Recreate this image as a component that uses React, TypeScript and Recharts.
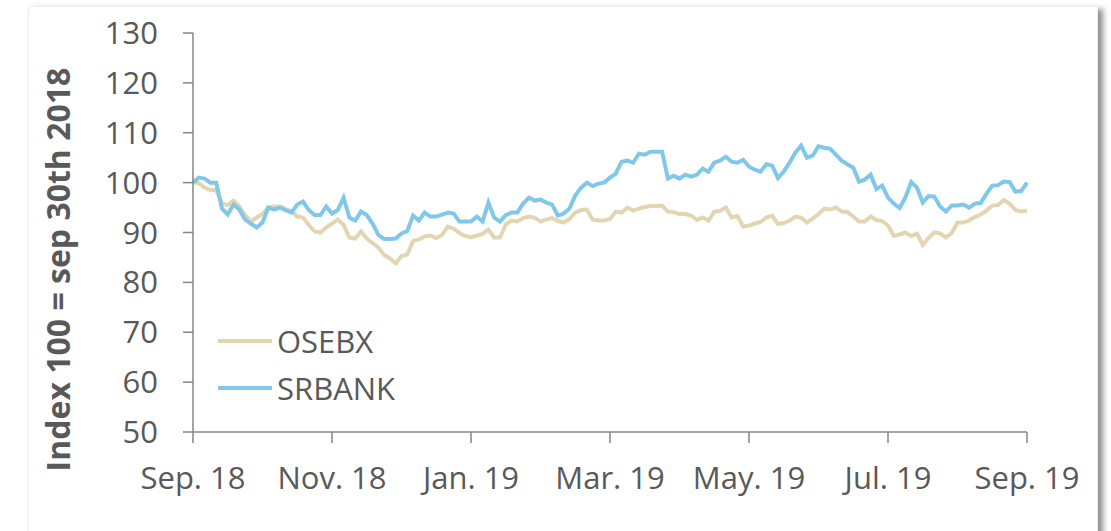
import React from 'react';
import { LineChart, Line, XAxis, YAxis, Legend } from 'recharts';

// tick labels on the x axis, one every 24 points
const monthLabels = ['Sep. 18', 'Nov. 18', 'Jan. 19', 'Mar. 19', 'May. 19', 'Jul. 19', 'Sep. 19'];
const xTicks = [0, 24, 48, 72, 96, 120, 144];
const yTicks = [50, 60, 70, 80, 90, 100, 110, 120, 130];

// index 100 = sep 30th 2018
const osebx = [
  100, 99.9, 99, 98.5, 98.5, 95.8, 95.5, 96.4, 95.2, 93.5,
  92.2, 93, 93.7, 95, 95.2, 95.2, 94.7, 94.3, 93.2, 93,
  91.5, 90.2, 90, 91, 91.8, 92.6, 91.5, 89, 88.8, 90.2,
  88.8, 87.9, 87, 85.5, 84.8, 83.8, 85.3, 85.6, 88.3, 88.6,
  89.2, 89.4, 88.9, 89.5, 91.2, 90.8, 89.9, 89.3, 89, 89.4,
  89.7, 90.6, 89, 89, 91.6, 92.4, 92.2, 92.9, 93.2, 93,
  92.2, 92.6, 92.9, 92.3, 92, 92.7, 94, 94.5, 94.6, 92.6,
  92.4, 92.4, 92.7, 94.2, 94, 95, 94.4, 94.8, 95.1, 95.3,
  95.3, 95.4, 94.2, 94.1, 93.7, 93.7, 93.4, 92.5, 93, 92.4,
  94.2, 94.3, 95, 93, 93.3, 91.2, 91.4, 91.8, 92.1, 93,
  93.4, 91.7, 91.9, 92.4, 93.2, 93, 92, 92.8, 93.7, 94.8,
  94.6, 95, 94.2, 94.1, 93.2, 92.2, 92.2, 93.2, 92.5, 92.3,
  91.4, 89.3, 89.6, 90, 89.3, 89.8, 87.5, 88.9, 90, 89.8,
  89, 89.9, 92, 92, 92.4, 93.1, 93.6, 94.4, 95.4, 95.5,
  96.5, 95.8, 94.5, 94.2, 94.4,
];

const srbank = [
  100, 101, 100.8, 100, 100, 94.8, 93.6, 95.6, 94.6, 92.6,
  91.8, 91, 92, 95, 94.6, 95, 94.5, 94, 95.6, 96.2,
  94.5, 93.5, 93.5, 95.2, 93.8, 94.5, 97, 93, 92.4, 94.2,
  93.5, 91.8, 89.5, 88.7, 88.7, 88.8, 89.8, 90.3, 93.4, 92.4,
  94, 93.2, 93.2, 93.6, 94, 93.8, 92.2, 92.2, 92.2, 93.2,
  92.2, 96, 93, 92.2, 93.5, 94, 94, 95.8, 97, 96.4,
  96.6, 96, 95.6, 93.4, 93.8, 94.8, 97.4, 99, 100, 99.3,
  99.8, 100, 101, 101.8, 104.2, 104.4, 104, 105.8, 105.6, 106.2,
  106.2, 106.2, 100.8, 101.4, 100.8, 101.6, 101.2, 101.6, 102.8, 102.2,
  104, 104.4, 105.2, 104.2, 104, 104.6, 103.2, 102.6, 102.2, 103.7,
  103.4, 100.9, 102.2, 104, 106, 107.4, 105, 105.4, 107.3, 107,
  106.8, 105.6, 104.4, 103.7, 103, 100.2, 100.6, 101.6, 98.7, 99.4,
  97, 95.8, 94.9, 97, 100.1, 99, 96, 97.3, 97.2, 95.2,
  94.2, 95.4, 95.4, 95.6, 95, 95.8, 95.9, 97.8, 99.4, 99.5,
  100.2, 100.1, 98.2, 98.3, 100,
];

const data = osebx.map((v, i) => ({ i, OSEBX: v, SRBANK: srbank[i] }));

const FONT = '"Open Sans", sans-serif';
const AXIS = '#868686';
const TEXT = '#595959';
const BEIGE = '#E2D6B2';
const BLUE = '#80C7EA';

const tickLabel = (v: number) => monthLabels[xTicks.indexOf(v)] ?? '';

const renderLegend = (props: any) => {
  const { payload } = props;
  return (
    <div style={{ fontFamily: FONT, fontSize: 31, color: TEXT }}>
      {payload.map((entry: any) => (
        <div key={entry.value} style={{ display: 'flex', alignItems: 'center', height: 47 }}>
          <span style={{ display: 'inline-block', width: 54, height: 4, background: entry.color, marginRight: 5 }} />
          <span>{entry.value}</span>
        </div>
      ))}
    </div>
  );
};

const YTitle = (props: any) => {
  const { viewBox } = props;
  const cx = 57;
  const cy = viewBox.y + viewBox.height / 2 + 37;
  return (
    <text
      x={cx}
      y={cy}
      transform={`rotate(-90, ${cx}, ${cy})`}
      textAnchor="middle"
      dominantBaseline="central"
      fontFamily={FONT}
      fontWeight="bold"
      fontSize={32}
      fill={TEXT}
    >
      Index 100 = sep 30th 2018
    </text>
  );
};

export default function App() {
  return (
    <div style={{ position: 'absolute', left: 0, top: 0, width: 1111, height: 531, overflow: 'hidden', background: '#fff' }}>
      <div
        style={{
          position: 'absolute',
          left: 28,
          top: 6,
          width: 1068,
          height: 560,
          background: '#fff',
          border: '1px solid #efefef',
          boxShadow: '5px 3px 6px rgba(0,0,0,0.45)',
        }}
      />
      <div style={{ position: 'absolute', left: 0, top: 0 }}>
        <LineChart width={1111} height={531} data={data} margin={{ top: 33, right: 84, bottom: 0, left: 0 }}>
          <XAxis
            dataKey="i"
            type="number"
            domain={[0, 144]}
            ticks={xTicks}
            tickFormatter={tickLabel}
            height={99}
            interval={0}
            stroke={AXIS}
            strokeWidth={1.5}
            tickSize={11}
            tickMargin={24}
            tick={{ fill: TEXT, fontSize: 31, fontFamily: FONT }}
          />
          <YAxis
            domain={[50, 130]}
            ticks={yTicks}
            width={193}
            interval={0}
            stroke={AXIS}
            strokeWidth={1.5}
            tickSize={10}
            tickMargin={25}
            tick={{ fill: TEXT, fontSize: 31, fontFamily: FONT }}
            label={<YTitle />}
          />
          <Legend
            layout="horizontal"
            align="center"
            verticalAlign="middle"
            content={renderLegend}
            wrapperStyle={{ left: 218, top: 317, width: 'auto' }}
          />
          <Line
            type="linear"
            dataKey="OSEBX"
            stroke={BEIGE}
            strokeWidth={4}
            dot={false}
            isAnimationActive={false}
          />
          <Line
            type="linear"
            dataKey="SRBANK"
            stroke={BLUE}
            strokeWidth={4}
            dot={false}
            isAnimationActive={false}
          />
        </LineChart>
      </div>
    </div>
  );
}
